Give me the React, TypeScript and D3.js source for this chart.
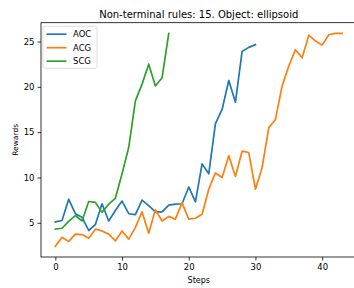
import React, { useEffect, useRef } from 'react';
import * as d3 from 'd3';

const aocValues = [5.1, 5.25, 7.6, 6.0, 5.6, 4.15, 4.8, 7.1, 5.2, 6.35, 7.4, 6.0, 5.9, 7.5, 6.9, 6.2, 6.2, 6.95, 7.05, 7.1,
  8.95, 7.3, 11.5, 10.4, 15.95, 17.5, 20.7, 18.3, 23.9, 24.35, 24.65];
const acgValues = [2.4, 3.4, 2.95, 3.75, 3.7, 3.3, 4.3, 4.1, 3.75, 3.0, 4.1, 3.2, 4.5, 6.2, 3.85, 6.45, 5.2, 5.7, 5.4, 7.2,
  5.4, 5.5, 5.95, 8.7, 10.5, 10.0, 12.4, 10.1, 12.9, 12.75, 8.7, 11.1, 15.5, 16.4, 20.1, 22.3, 24.1, 23.2, 25.7, 25.05,
  24.6, 25.75, 25.9, 25.9];
const scgValues = [4.3, 4.4, 5.15, 5.8, 5.2, 7.35, 7.25, 6.15, 7.05, 7.7, 10.4, 13.3, 18.45, 20.3, 22.5, 20.1, 21.0, 25.9];

const seriesNames = ['AOC', 'ACG', 'SCG'];
const seriesColors = ['#1f77b4', '#ff7f0e', '#2ca02c'];
const xTicks = [0, 10, 20, 30, 40];
const yTicks = [5, 10, 15, 20, 25];

const App: React.FC = () => {
  const svgRef = useRef<SVGSVGElement>(null);

  useEffect(() => {
    if (!svgRef.current) return;
    const root = d3.select(svgRef.current);
    root.selectAll('*').remove();

    const width = 354;
    const height = 288;
    const plot = { left: 41, right: 356.5, top: 22.7, bottom: 257 };
    const font = 'DejaVu Sans, sans-serif';

    const allSeries = [aocValues, acgValues, scgValues];
    const maxLen = d3.max(allSeries, s => s.length) || 1;
    const allValues = allSeries.flat();
    const yMin = d3.min(allValues) || 0;
    const yMax = d3.max(allValues) || 1;
    const xPad = (maxLen - 1) * 0.05;
    const yPad = (yMax - yMin) * 0.05;

    const x = d3.scaleLinear()
      .domain([-xPad, maxLen - 1 + xPad])
      .range([plot.left, plot.right]);
    const y = d3.scaleLinear()
      .domain([yMin - yPad, yMax + yPad])
      .range([plot.bottom, plot.top]);

    root.attr('width', width).attr('height', height);
    root.append('rect').attr('width', width).attr('height', height).attr('fill', '#fff');

    // lines
    const line = d3.line<number>()
      .x((_, i) => x(i))
      .y(d => y(d));

    allSeries.forEach((values, k) => {
      root.append('path')
        .datum(values)
        .attr('d', line)
        .attr('fill', 'none')
        .attr('stroke', seriesColors[k])
        .attr('stroke-width', 1.7)
        .attr('stroke-linejoin', 'round')
        .attr('stroke-linecap', 'square');
    });

    // frame
    root.append('rect')
      .attr('x', plot.left)
      .attr('y', plot.top)
      .attr('width', plot.right - plot.left)
      .attr('height', plot.bottom - plot.top)
      .attr('fill', 'none')
      .attr('stroke', '#000')
      .attr('stroke-width', 0.8);

    // x axis
    const xAxis = root.append('g')
      .attr('transform', `translate(0,${plot.bottom})`)
      .call(d3.axisBottom(x).tickValues(xTicks).tickSize(3.5).tickPadding(3).tickFormat(d3.format('d')));
    xAxis.select('.domain').remove();
    xAxis.selectAll('text').style('font-family', font).style('font-size', '8.5px').attr('fill', '#000');
    xAxis.selectAll('line').attr('stroke', '#000').attr('stroke-width', 0.8);

    // y axis
    const yAxis = root.append('g')
      .attr('transform', `translate(${plot.left},0)`)
      .call(d3.axisLeft(y).tickValues(yTicks).tickSize(3.5).tickPadding(3).tickFormat(d3.format('d')));
    yAxis.select('.domain').remove();
    yAxis.selectAll('text').style('font-family', font).style('font-size', '8.5px').attr('fill', '#000');
    yAxis.selectAll('line').attr('stroke', '#000').attr('stroke-width', 0.8);

    // axis labels
    root.append('text')
      .attr('x', (plot.left + plot.right) / 2)
      .attr('y', 283)
      .attr('text-anchor', 'middle')
      .style('font-family', font)
      .style('font-size', '8px')
      .text('Steps');

    root.append('text')
      .attr('transform', `translate(17.5,${(plot.top + plot.bottom) / 2}) rotate(-90)`)
      .attr('text-anchor', 'middle')
      .style('font-family', font)
      .style('font-size', '7.5px')
      .text('Rewards');

    // title
    root.append('text')
      .attr('x', (plot.left + plot.right) / 2)
      .attr('y', 18)
      .attr('text-anchor', 'middle')
      .style('font-family', font)
      .style('font-size', '10px')
      .text('Non-terminal rules: 15. Object: ellipsoid');

    // legend
    const legend = root.append('g').attr('transform', `translate(${plot.left + 2},${plot.top + 3.5})`);
    legend.append('rect')
      .attr('width', 54)
      .attr('height', 42)
      .attr('rx', 2)
      .attr('fill', '#fff')
      .attr('fill-opacity', 0.8)
      .attr('stroke', '#d6d6d6')
      .attr('stroke-width', 0.8);

    seriesNames.forEach((name, k) => {
      const row = legend.append('g').attr('transform', `translate(0,${8 + k * 13.5})`);
      row.append('line')
        .attr('x1', 3.5)
        .attr('x2', 23.5)
        .attr('stroke', seriesColors[k])
        .attr('stroke-width', 1.7);
      row.append('text')
        .attr('x', 30)
        .attr('dy', '0.35em')
        .style('font-family', font)
        .style('font-size', '8.5px')
        .text(name);
    });
  }, []);

  return (
    <div style={{ position: 'fixed', left: 0, top: 0, width: 354, height: 288 }}>
      <svg ref={svgRef} style={{ display: 'block' }}></svg>
    </div>
  );
};

export default App;
